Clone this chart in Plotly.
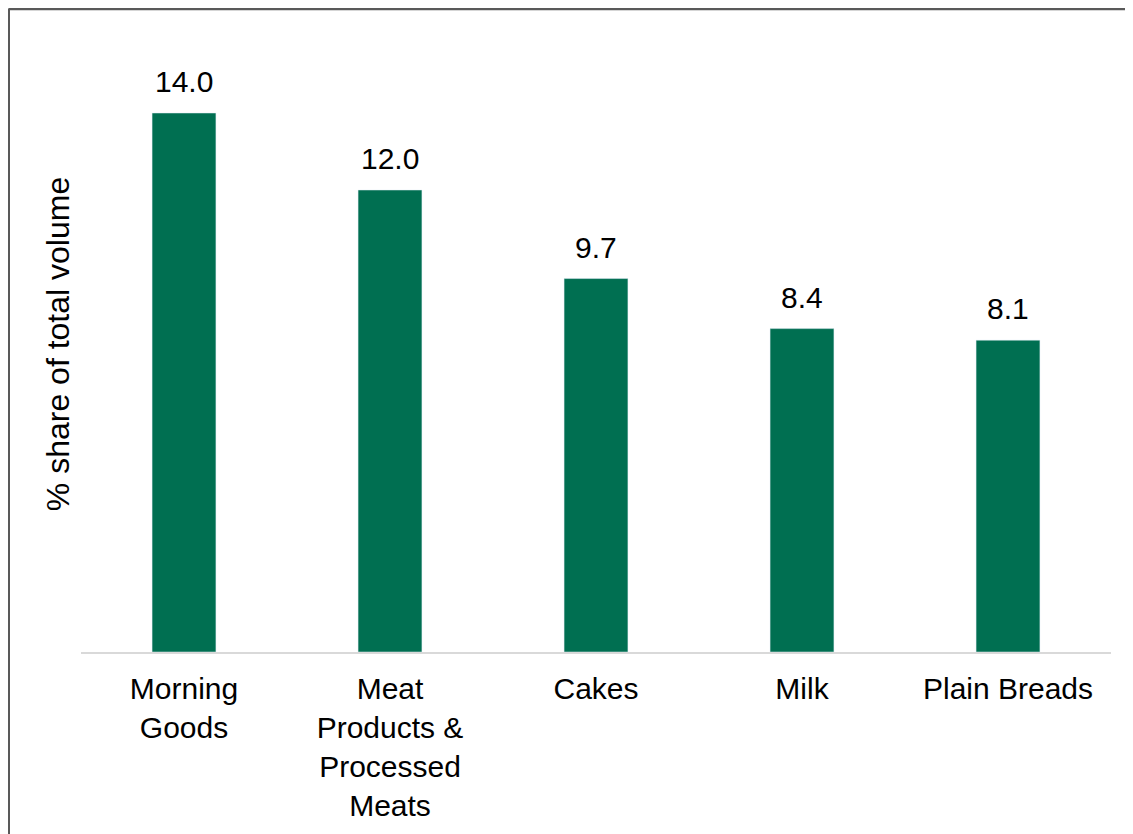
import plotly.graph_objects as go

categories = ["Morning<br>Goods", "Meat<br>Products &<br>Processed<br>Meats", "Cakes", "Milk", "Plain Breads"]
values = [14.0, 12.0, 9.7, 8.4, 8.1]
value_labels = ["14.0", "12.0", "9.7", "8.4", "8.1"]

BAR_COLOR = "#006F51"
FONT = "Liberation Sans, Arial, sans-serif"

# page body has an 8px margin; figure sized to fit the window
OFF = 8
W, H = 1133 - OFF, 834 - OFF
ML, MR, MT, MB = 81 - OFF, 22, 36 - OFF, 179
PW, PH = W - ML - MR, H - MT - MB

fig = go.Figure()
fig.add_trace(go.Bar(
    x=categories, y=values, marker_color=BAR_COLOR, width=0.31,
    hoverinfo="skip",
))

for c, v, t in zip(categories, values, value_labels):
    fig.add_annotation(x=c, y=v, text=t, showarrow=False, yanchor="bottom",
                       yshift=13, font=dict(family=FONT, size=30, color="#000000"))

# outer border (left and top only visible)
bx = (0.5 - ML) / PW
by = 1 + (MT - 0.5) / PH
fig.add_shape(type="line", xref="paper", yref="paper", x0=bx, x1=bx, y0=-1, y1=by,
              line=dict(color="#595959", width=3))
fig.add_shape(type="line", xref="paper", yref="paper", x0=bx, x1=1.2, y0=by, y1=by,
              line=dict(color="#595959", width=3))

fig.update_layout(
    width=W, height=H,
    margin=dict(l=ML, r=MR, t=MT, b=MB, pad=0),
    paper_bgcolor="white", plot_bgcolor="white",
    showlegend=False, bargap=0.69,
    font=dict(family=FONT, size=30, color="#000000"),
    xaxis=dict(showline=True, linecolor="#D9D9D9", linewidth=2, ticks="",
               tickfont=dict(size=30), ticklabelstandoff=9,
               showgrid=False, fixedrange=True),
    yaxis=dict(range=[0, 16], showticklabels=False, showgrid=False, zeroline=False,
               showline=False, ticks="", fixedrange=True,
               title=dict(text="% share of total volume", font=dict(size=32), standoff=0)),
)

fig.write_html("out.html")
